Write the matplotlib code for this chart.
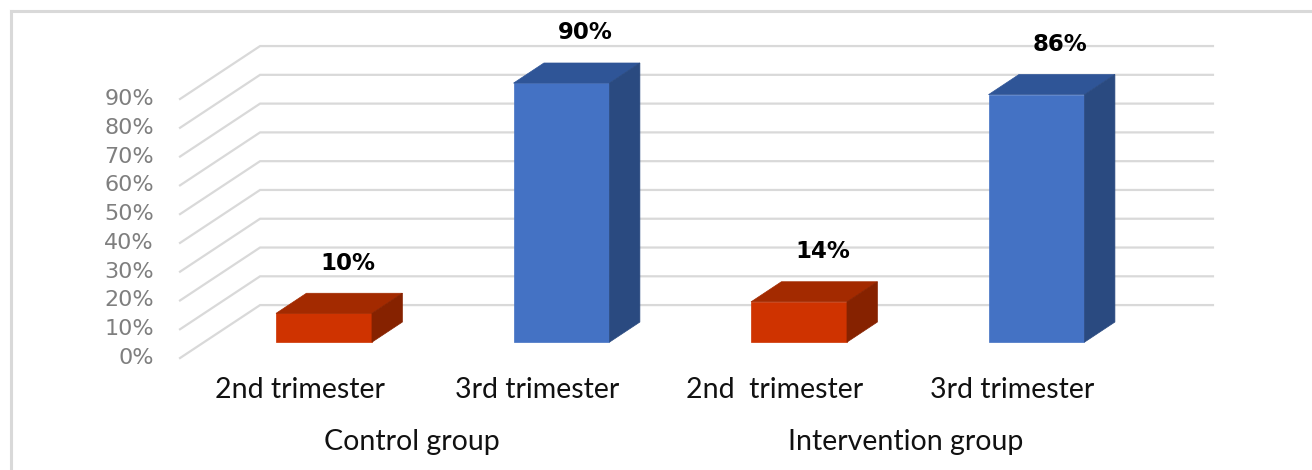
import matplotlib.pyplot as plt
from matplotlib.patches import Polygon

groups = ['Control group', 'Intervention group']
categories = ['2nd trimester', '3rd trimester', '2nd  trimester', '3rd trimester']
values = [10, 90, 14, 86]
labels = ['10%', '90%', '14%', '86%']
yticks = [0, 10, 20, 30, 40, 50, 60, 70, 80, 90]

red = ('#cf3300', '#a32a00', '#862200')
blue = ('#4472c4', '#2f5597', '#2a4a80')
colors = [red, blue, red, blue]

DX, DY = 0.337, 18.4    # depth offset of back wall (data units)
Z0, Z1 = 0.30, 0.68     # bar front/back depth fraction
HW = 0.202              # bar half width
GRID = '#d9d9d9'

fig = plt.figure(figsize=(13.12, 4.70), dpi=100)
ax = fig.add_axes([0, 0, 1, 1])
ax.set_xlim(-1.263, 4.261)
ax.set_ylim(-38.9, 124.4)
ax.axis('off')


def proj(x, y, z):
    return (x + z * DX, y + z * DY)


# gridlines: diagonal on the side wall + horizontal on the back wall
x_left, x_right = -0.505, 3.507
for t in yticks:
    a = proj(x_left, t, 0)
    b = proj(x_left, t, 1)
    c = proj(x_right, t, 1)
    ax.plot([a[0], b[0], c[0]], [a[1], b[1], c[1]], color=GRID, lw=1.6,
            solid_joinstyle='miter', zorder=1)
    ax.text(x_left - 0.11, t, f'{t}%', ha='right', va='center',
            fontsize=16, color='#7f7f7f', family='DejaVu Sans')

# bars
for i, (v, col) in enumerate(zip(values, colors)):
    xl, xr = i - HW, i + HW
    front = [proj(xl, 0, Z0), proj(xr, 0, Z0), proj(xr, v, Z0), proj(xl, v, Z0)]
    top = [proj(xl, v, Z0), proj(xr, v, Z0), proj(xr, v, Z1), proj(xl, v, Z1)]
    side = [proj(xr, 0, Z0), proj(xr, 0, Z1), proj(xr, v, Z1), proj(xr, v, Z0)]
    for pts, c in zip((front, top, side), col):
        ax.add_patch(Polygon(pts, closed=True, facecolor=c, edgecolor=c,
                             lw=0.5, zorder=3))
    ax.text(i + 0.2, v + 23, labels[i], ha='center', va='center',
            fontsize=16.5, fontweight='bold', color='black', family='DejaVu Sans')

# category labels
for i, lab in enumerate(categories):
    ax.text(i, -11.1, lab, ha='center', va='center', fontsize=20.5,
            color='#111111', family='Lato')
for g, name in enumerate(groups):
    ax.text(2 * g + 0.5 + (0.05 if g else -0.03), -29.2, name, ha='center',
            va='center', fontsize=20.5, color='#111111', family='Lato')

# outer frame (top and left edges)
fig.add_artist(plt.Line2D([0.0084, 1.0], [0.977, 0.977], color='#d9d9d9', lw=2.2,
                          transform=fig.transFigure))
fig.add_artist(plt.Line2D([0.0084, 0.0084], [0.0, 0.977], color='#d9d9d9', lw=2.2,
                          transform=fig.transFigure))

plt.savefig('out.png', dpi=100)
